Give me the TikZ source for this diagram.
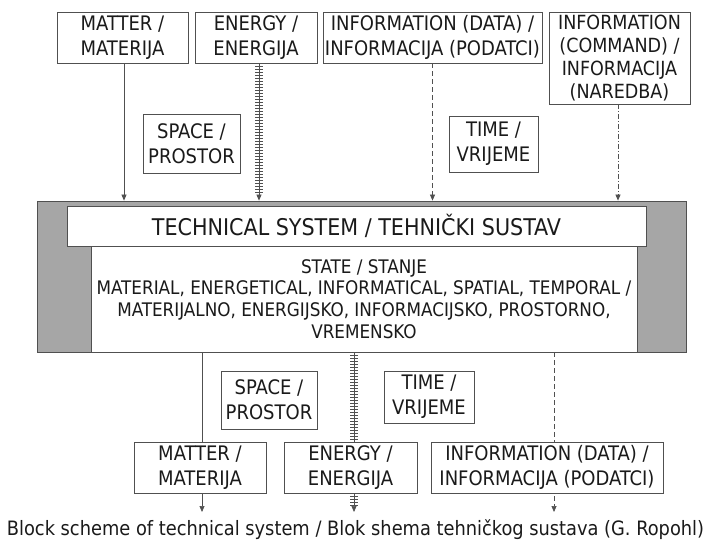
\documentclass[tikz,border=0pt]{standalone}
\usepackage{fontspec}
\setmainfont{DejaVu Sans Condensed}
\usetikzlibrary{arrows.meta}
\definecolor{lc}{HTML}{505050}
\definecolor{gfill}{HTML}{A6A6A6}
\definecolor{tc}{HTML}{1A1A1A}
\begin{document}
\begin{tikzpicture}[x=1pt,y=-1pt,
  box/.style={draw=lc, line width=0.8pt, fill=white, inner sep=0pt, align=center, text=tc,
              font=\fontsize{20}{25}\selectfont},
  sysbox/.style={draw=lc, line width=0.8pt, fill=gfill, inner sep=0pt},
  tip/.style={-{Triangle[width=5pt,length=6pt]}},
  flow/.style={draw=lc, line width=0.7pt, tip},
  dataflow/.style={flow, dash pattern=on 5pt off 3pt},
  cmdflow/.style={flow, dash pattern=on 5pt off 2pt on 1pt off 2pt},
  ticks/.style={draw=lc, line width=7.5pt, dash pattern=on 0.9pt off 2.1pt},
  caption/.style={text=tc, inner sep=0pt, font=\fontsize{19.8}{24}\selectfont}
]
\useasboundingbox (0,0) rectangle (711,541);

% --- input boxes
\node[box, minimum width=131pt, minimum height=51pt] (mt) at (122.5,37.5) {MATTER /\\MATERIJA};
\node[box, minimum width=122pt, minimum height=51pt] (en) at (256,37.5) {ENERGY /\\ENERGIJA};
\node[box, minimum width=219pt, minimum height=51pt] (id) at (432.5,37.5) {INFORMATION (DATA) /\\INFORMACIJA (PODATCI)};
\node[box, minimum width=141pt, minimum height=92pt, font=\fontsize{19.5}{22.8}\selectfont] (cm) at (619.5,58) {INFORMATION\\(COMMAND) /\\INFORMACIJA\\(NAREDBA)};
\node[box, minimum width=97pt, minimum height=59pt] (sp) at (191.5,143.5) {SPACE /\\PROSTOR};
\node[box, minimum width=89pt, minimum height=56pt] (tm) at (493.5,144) {TIME /\\VRIJEME};

% --- technical system
\node[sysbox, minimum width=649pt, minimum height=151pt] (sys) at (361.5,276.5) {};
\node[box, minimum width=546pt, minimum height=106pt, font=\fontsize{18.7}{21.7}\selectfont] (st) at (364,299)
  {STATE / STANJE\\MATERIAL, ENERGETICAL, INFORMATICAL, SPATIAL, TEMPORAL /\\MATERIJALNO, ENERGIJSKO, INFORMACIJSKO, PROSTORNO,\\VREMENSKO};
\node[box, minimum width=579pt, minimum height=40pt, font=\fontsize{23}{27}\selectfont] (ti) at (356.5,226) {TECHNICAL SYSTEM / TEHNIČKI SUSTAV};

% --- input connectors
\draw[flow] ([xshift=1.5pt]mt.south) -- ([xshift=1.5pt]mt.south |- sys.north);
\draw[ticks] ([xshift=3pt]en.south) -- ([xshift=3pt,yshift=6pt]en.south |- sys.north);
\draw[flow] ([xshift=3pt]en.south) -- ([xshift=3pt]en.south |- sys.north);
\draw[dataflow] (id.south) -- (id.south |- sys.north);
\draw[cmdflow] ([xshift=-1.5pt]cm.south) -- ([xshift=-1.5pt]cm.south |- sys.north);

% --- output connectors (drawn below the output boxes)
\coordinate (o1) at (202,512);
\coordinate (o2) at (354,512);
\coordinate (o3) at (554,512);
\draw[flow] (o1 |- sys.south) -- (o1);
\draw[ticks] (o2 |- sys.south) -- ([yshift=6pt]o2);
\draw[flow] (o2 |- sys.south) -- (o2);
\draw[dataflow] (o3 |- sys.south) -- (o3);

% --- output boxes
\node[box, minimum width=96pt, minimum height=58pt] (sp2) at (269,400) {SPACE /\\PROSTOR};
\node[box, minimum width=90pt, minimum height=52pt] (tm2) at (429,397) {TIME /\\VRIJEME};
\node[box, minimum width=132pt, minimum height=51pt] (mt2) at (200,467.5) {MATTER /\\MATERIJA};
\node[box, minimum width=133pt, minimum height=51pt] (en2) at (350.5,467.5) {ENERGY /\\ENERGIJA};
\node[box, minimum width=232pt, minimum height=51pt] (id2) at (547,467.5) {INFORMATION (DATA) /\\INFORMACIJA (PODATCI)};

% --- caption
\node[caption, anchor=base] (cap) at (355.5,535) {Block scheme of technical system / Blok shema tehničkog sustava (G. Ropohl)};
\end{tikzpicture}
\end{document}
